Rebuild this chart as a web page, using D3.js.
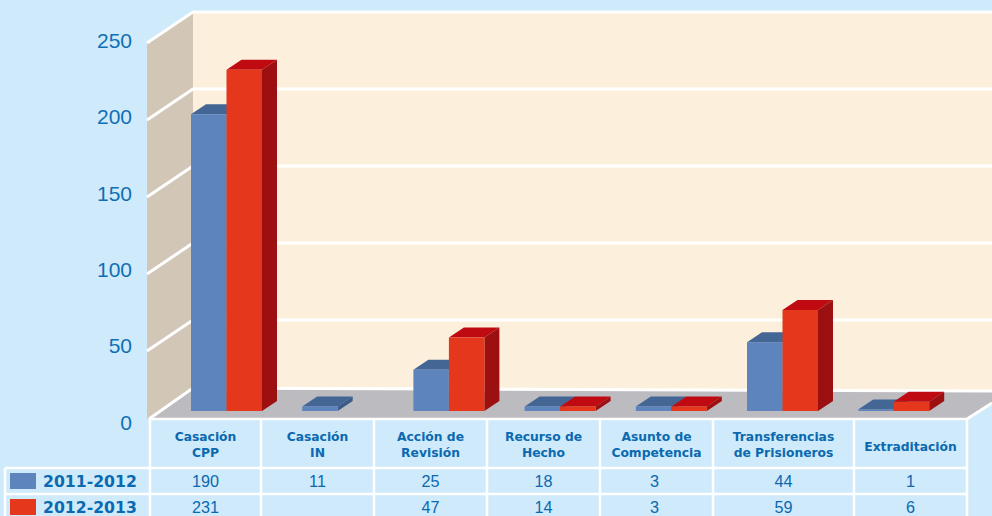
<!DOCTYPE html>
<html lang="en">
	<head>
		<meta charset="utf-8">
		<title>Casos por tipo de recurso</title>
		<script type="text/javascript" src="https://cdn.jsdelivr.net/npm/d3@7"></script>
		<style type="text/css">
			html, body { margin: 0; padding: 0; background: #cfeafa; overflow: hidden; }
			svg { display: block; }
			.tick text { font-family: "Liberation Sans", sans-serif; font-size: 21px; fill: #0f6fb5; }
		</style>
	</head>
	<body>
		<script type="text/javascript">

			//Table contents
			var categories = [
				["Casación", "CPP"],
				["Casación", "IN"],
				["Acción de", "Revisión"],
				["Recurso de", "Hecho"],
				["Asunto de", "Competencia"],
				["Transferencias", "de Prisioneros"],
				["Extraditación"]
			];
			var seriesNames = ["2011-2012", "2012-2013"];
			var tableValues2011 = ["190", "11", "25", "18", "3", "44", "1"];
			var tableValues2012 = ["231", "", "47", "14", "3", "59", "6"];

			//Bar heights as they are drawn (they do not always agree with the table)
			var barValues2011 = [194, 3, 27, 3, 3, 45, 1];
			var barValues2012 = [223, 0, 48, 3, 3, 66, 6];

			var yTicks = [0, 50, 100, 150, 200, 250];

			//Width and height
			var w = 992;
			var h = 516;

			//Colours for front, top and side of each series
			var blue = { front: "#5e84be", top: "#436695", side: "#3b5c8a" };
			var red = { front: "#e4371b", top: "#be0a10", side: "#9c1012" };
			var textColor = "#0a69b0";

			//Depth of the walls and of the bars
			var wallDx = 46, wallDy = 31;
			var barDx = 15, barDy = 10;

			//Table column and row edges
			var columnEdges = [150, 261, 374, 487, 600, 713, 854, 967];
			var rowEdges = [419, 468, 494, 520];

			var svg = d3.select("body")
						.append("svg")
						.attr("width", w)
						.attr("height", h);

			var indexes = d3.range(categories.length);

			//Scales
			var xScale = d3.scaleBand()
						   .domain(indexes)
						   .range([171, 949.4]);

			var seriesScale = d3.scaleBand()
						   .domain([0, 1])
						   .range([20, 91]);

			var yScale = d3.scaleLinear()
						   .domain([0, 250])
						   .range([411, 28.5]);

			var gridScale = d3.scaleLinear()
						   .domain([0, 250])
						   .range([397, 12]);

			var labelScale = d3.scaleLinear()
						   .domain([0, 250])
						   .range([422.5, 40.5]);

			//Walls
			svg.append("rect")
			   .attr("x", 193)
			   .attr("y", 12)
			   .attr("width", w - 193)
			   .attr("height", 380)
			   .attr("fill", "#fcf0dc");

			svg.append("polygon")
			   .attr("points", "147,43 193,12 193,392 147,419")
			   .attr("fill", "#d2c6b6");

			//Grid lines, along the side wall and the back wall
			svg.selectAll(".grid")
			   .data(yTicks.slice(1))
			   .enter()
			   .append("polyline")
			   .attr("class", "grid")
			   .attr("points", function(d) {
					var y = gridScale(d);
					return [[193 - wallDx, y + wallDy], [193, y], [w, y]].join(" ");
			   })
			   .attr("fill", "none")
			   .attr("stroke", "white")
			   .attr("stroke-width", 3);

			//Floor
			svg.append("polygon")
			   .attr("points", "150,418 193,389 992,392 992,403 967,418")
			   .attr("fill", "#bbbbc0");

			svg.append("polyline")
			   .attr("points", "149,419 193,388 992,391")
			   .attr("fill", "none")
			   .attr("stroke", "white")
			   .attr("stroke-width", 3);

			//Background under the floor, on the right of the table
			svg.append("polygon")
			   .attr("points", "967,419 992,403 992,516 967,516")
			   .attr("fill", "#cfeafa");

			svg.append("line")
			   .attr("x1", 967)
			   .attr("y1", 419)
			   .attr("x2", 992)
			   .attr("y2", 403)
			   .attr("stroke", "white")
			   .attr("stroke-width", 3);

			//Draw one series of bars
			function drawBars(values, seriesIndex, colors) {
				var barW = seriesScale.bandwidth();
				var g = svg.append("g").attr("class", "series" + seriesIndex);
				var bars = g.selectAll("g")
							.data(values.map(function(v, i) { return { v: v, i: i }; }).filter(function(d) { return d.v > 0; }))
							.enter()
							.append("g");

				var left = function(d) { return xScale(d.i) + seriesScale(seriesIndex); };

				bars.append("polygon")
					.attr("points", function(d) {
						var x = left(d), y = yScale(d.v);
						return [[x, y], [x + barDx, y - barDy], [x + barW + barDx, y - barDy], [x + barW, y]].join(" ");
					})
					.attr("fill", colors.top);

				bars.append("polygon")
					.attr("points", function(d) {
						var x = left(d) + barW, y = yScale(d.v), y0 = yScale(0);
						return [[x, y], [x + barDx, y - barDy], [x + barDx, y0 - barDy], [x, y0]].join(" ");
					})
					.attr("fill", colors.side);

				bars.append("rect")
					.attr("x", left)
					.attr("y", function(d) { return yScale(d.v); })
					.attr("width", barW)
					.attr("height", function(d) { return yScale(0) - yScale(d.v); })
					.attr("fill", colors.front);
			}

			drawBars(barValues2011, 0, blue);
			drawBars(barValues2012, 1, red);

			//Y axis labels
			var yAxis = d3.axisLeft()
						  .scale(labelScale)
						  .tickValues(yTicks)
						  .tickSize(0)
						  .tickPadding(0);

			svg.append("g")
			   .attr("class", "axis")
			   .attr("transform", "translate(132,0)")
			   .call(yAxis)
			   .call(function(g) { g.select(".domain").remove(); });

			//Table lines
			var lineColor = "white";
			columnEdges.forEach(function(x) {
				svg.append("line")
				   .attr("x1", x).attr("x2", x)
				   .attr("y1", rowEdges[0]).attr("y2", h)
				   .attr("stroke", lineColor).attr("stroke-width", 2.5);
			});
			svg.append("line")
			   .attr("x1", 150).attr("x2", 967)
			   .attr("y1", rowEdges[0]).attr("y2", rowEdges[0])
			   .attr("stroke", lineColor).attr("stroke-width", 2.5);
			rowEdges.slice(1, 3).forEach(function(y) {
				svg.append("line")
				   .attr("x1", 5).attr("x2", 967)
				   .attr("y1", y).attr("y2", y)
				   .attr("stroke", lineColor).attr("stroke-width", 2.5);
			});
			svg.append("line")
			   .attr("x1", 5).attr("x2", 5)
			   .attr("y1", rowEdges[1]).attr("y2", h)
			   .attr("stroke", lineColor).attr("stroke-width", 2.5);

			//Category headers
			svg.selectAll(".cat")
			   .data(categories)
			   .enter()
			   .append("text")
			   .attr("class", "cat")
			   .attr("font-family", "'DejaVu Sans', sans-serif")
			   .attr("font-weight", "bold")
			   .attr("font-size", "12.3px")
			   .attr("fill", textColor)
			   .attr("text-anchor", "middle")
			   .each(function(d, i) {
					var cx = (columnEdges[i] + columnEdges[i + 1]) / 2;
					var y0 = d.length > 1 ? 441 : 451;
					d3.select(this).selectAll("tspan")
					   .data(d)
					   .enter()
					   .append("tspan")
					   .attr("x", cx)
					   .attr("y", function(t, j) { return y0 + j * 16; })
					   .text(function(t) { return t; });
			   });

			//Table rows
			[tableValues2011, tableValues2012].forEach(function(values, r) {
				var cy = (rowEdges[r + 1] + rowEdges[r + 2]) / 2;

				svg.append("rect")
				   .attr("x", 10)
				   .attr("y", cy - 8)
				   .attr("width", 26)
				   .attr("height", 16)
				   .attr("fill", r === 0 ? blue.front : red.front);

				svg.append("text")
				   .attr("x", 43)
				   .attr("y", cy + 6)
				   .attr("font-family", "'DejaVu Sans', sans-serif")
				   .attr("font-weight", "bold")
				   .attr("font-size", "15.7px")
				   .attr("fill", textColor)
				   .text(seriesNames[r]);

				svg.selectAll(".row" + r)
				   .data(values)
				   .enter()
				   .append("text")
				   .attr("class", "row" + r)
				   .attr("x", function(d, i) { return (columnEdges[i] + columnEdges[i + 1]) / 2 - (i === 4 ? 2 : 0); })
				   .attr("y", cy + 6)
				   .attr("text-anchor", "middle")
				   .attr("font-family", "'Liberation Sans', sans-serif")
				   .attr("font-size", "16.2px")
				   .attr("fill", textColor)
				   .text(function(d) { return d; });
			});

		</script>
	</body>
</html>
